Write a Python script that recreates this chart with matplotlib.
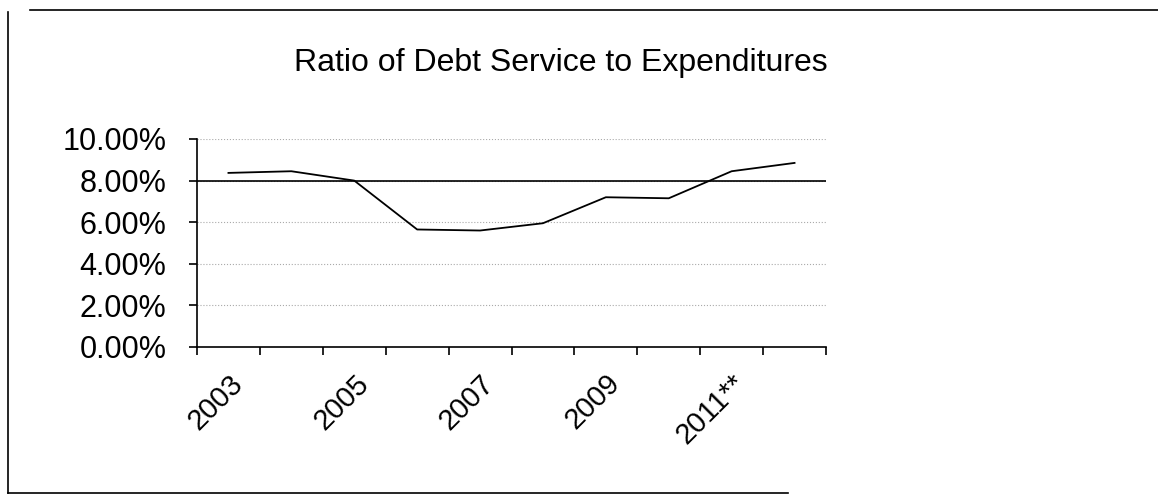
import matplotlib
matplotlib.use('Agg')
import matplotlib.pyplot as plt
import matplotlib.transforms as mtransforms
from matplotlib.lines import Line2D
from matplotlib.ticker import PercentFormatter, FixedLocator
import numpy as np

years = ['2003', '2004', '2005', '2006', '2007', '2008', '2009', '2010', '2011**', '2012**']
ratio = [0.0837, 0.0845, 0.0800, 0.0565, 0.0560, 0.0595, 0.0720, 0.0715, 0.0845, 0.0885]
target = 0.08
shown_labels = ['2003', '2005', '2007', '2009', '2011**']

W, H = 1158, 496


def fx(x):
    return x / W


def fy(y):
    return 1 - y / H


plt.rcParams['font.family'] = ['Liberation Sans', 'DejaVu Sans']

fig = plt.figure(figsize=(W / 100, H / 100), dpi=100)
ax = fig.add_axes([fx(197), fy(347), (826 - 197) / W, (347 - 139) / H])

x = np.arange(len(years))
ax.plot(x, ratio, color='black', lw=1.3, zorder=3)
ax.axhline(target, color='black', lw=1.2, zorder=2)

ax.set_xlim(-0.5, len(years) - 0.5)
ax.set_ylim(0, 0.10)
ax.set_yticks(np.arange(0, 0.101, 0.02))
ax.yaxis.set_major_formatter(PercentFormatter(xmax=1, decimals=2))
ax.grid(axis='y', color='#aaaaaa', linestyle=':', lw=0.8, zorder=1)

# ticks between categories, labels on every other category
ax.xaxis.set_major_locator(FixedLocator(np.arange(-0.5, len(years), 1.0)))
ax.xaxis.set_major_formatter(plt.NullFormatter())
label_pos = [years.index(s) for s in shown_labels]
ax.xaxis.set_minor_locator(FixedLocator(label_pos))
ax.set_xticklabels(shown_labels, minor=True, rotation=45, ha='right',
                   rotation_mode='anchor', fontsize=21)
shift = mtransforms.ScaledTranslation(-6 / 100, 0, fig.dpi_scale_trans)
for lab in ax.get_xticklabels(minor=True):
    lab.set_transform(lab.get_transform() + shift)
ax.tick_params(axis='x', which='major', direction='out', length=6, width=1.2)
ax.tick_params(axis='x', which='minor', length=0, pad=16)
ax.tick_params(axis='y', direction='out', length=6, width=1.2, pad=16, labelsize=22)

for s in ['top', 'right']:
    ax.spines[s].set_visible(False)
for s in ['left', 'bottom']:
    ax.spines[s].set_linewidth(1.2)

fig.text(fx(561), fy(71), 'Ratio of Debt Service to Expenditures', ha='center',
         va='baseline', fontsize=23)

# outer chart frame
fig.add_artist(Line2D([fx(30), fx(1158)], [fy(10), fy(10)], color='black', lw=1.2))
fig.add_artist(Line2D([fx(8), fx(8)], [fy(12), fy(493)], color='black', lw=1.2))
fig.add_artist(Line2D([fx(8), fx(788)], [fy(493), fy(493)], color='black', lw=1.2))

fig.savefig('out.png', dpi=100)
